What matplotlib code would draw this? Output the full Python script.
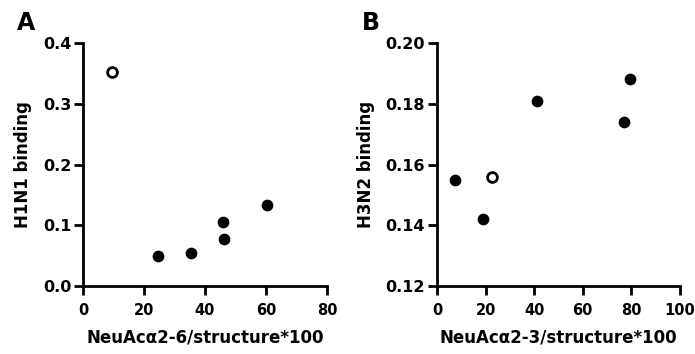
import matplotlib
matplotlib.use("Agg")
import matplotlib.pyplot as plt

plt.rcParams['font.family'] = ['DejaVu Sans']
plt.rcParams['font.weight'] = 'bold'

# panel A data
a_x_filled = [24.5, 35.5, 46.0, 46.2, 60.5]
a_y_filled = [0.050, 0.055, 0.106, 0.078, 0.133]
a_x_open = [9.5]
a_y_open = [0.353]

# panel B data
b_x_filled = [7.5, 19.0, 41.0, 77.0, 79.5]
b_y_filled = [0.155, 0.142, 0.181, 0.174, 0.188]
b_x_open = [22.5]
b_y_open = [0.156]

fig = plt.figure(figsize=(6.95, 3.54), dpi=100)
ax1 = fig.add_axes([0.1194, 0.192, 0.351, 0.6865])
ax2 = fig.add_axes([0.6288, 0.192, 0.3496, 0.6865])


def style(ax, xlim, ylim, xticks, yticks, ylabels, xlabel, ylabel, letter, lx):
    ax.set_xlim(xlim)
    ax.set_ylim(ylim)
    ax.set_xticks(xticks)
    ax.set_yticks(yticks)
    ax.set_yticklabels(ylabels)
    ax.spines['top'].set_visible(False)
    ax.spines['right'].set_visible(False)
    for s in ['left', 'bottom']:
        ax.spines[s].set_linewidth(2.0)
        ax.spines[s].set_capstyle('projecting')
    ax.tick_params(width=2.0, length=6.5, direction='out')
    ax.tick_params(axis='y', pad=2, labelsize=11.5)
    ax.tick_params(axis='x', pad=6, labelsize=10.5)
    for lab in ax.get_xticklabels() + ax.get_yticklabels():
        lab.set_fontweight('bold')
    ax.set_xlabel(xlabel, fontsize=12, fontweight='bold', labelpad=7)
    ax.set_ylabel(ylabel, fontsize=12, fontweight='bold', labelpad=8)
    fig.text(lx, 1 - 11 / 354, letter, fontsize=17, fontweight='bold',
             va='top', ha='left')


ax1.scatter(a_x_filled, a_y_filled, s=55, color='black', zorder=3, clip_on=False)
ax1.scatter(a_x_open, a_y_open, s=50, facecolor='white', edgecolor='black',
            linewidth=2.0, zorder=3, clip_on=False)
style(ax1, (0, 80), (0, 0.4), [0, 20, 40, 60, 80], [0, 0.1, 0.2, 0.3, 0.4],
      ['0.0', '0.1', '0.2', '0.3', '0.4'],
      'NeuAcα2-6/structure*100', 'H1N1 binding', 'A', 17 / 695)

ax2.scatter(b_x_filled, b_y_filled, s=55, color='black', zorder=3, clip_on=False)
ax2.scatter(b_x_open, b_y_open, s=50, facecolor='white', edgecolor='black',
            linewidth=2.0, zorder=3, clip_on=False)
style(ax2, (0, 100), (0.12, 0.20), [0, 20, 40, 60, 80, 100],
      [0.12, 0.14, 0.16, 0.18, 0.20],
      ['0.12', '0.14', '0.16', '0.18', '0.20'],
      'NeuAcα2-3/structure*100', 'H3N2 binding', 'B', 362 / 695)

fig.savefig('out.png', dpi=100)
